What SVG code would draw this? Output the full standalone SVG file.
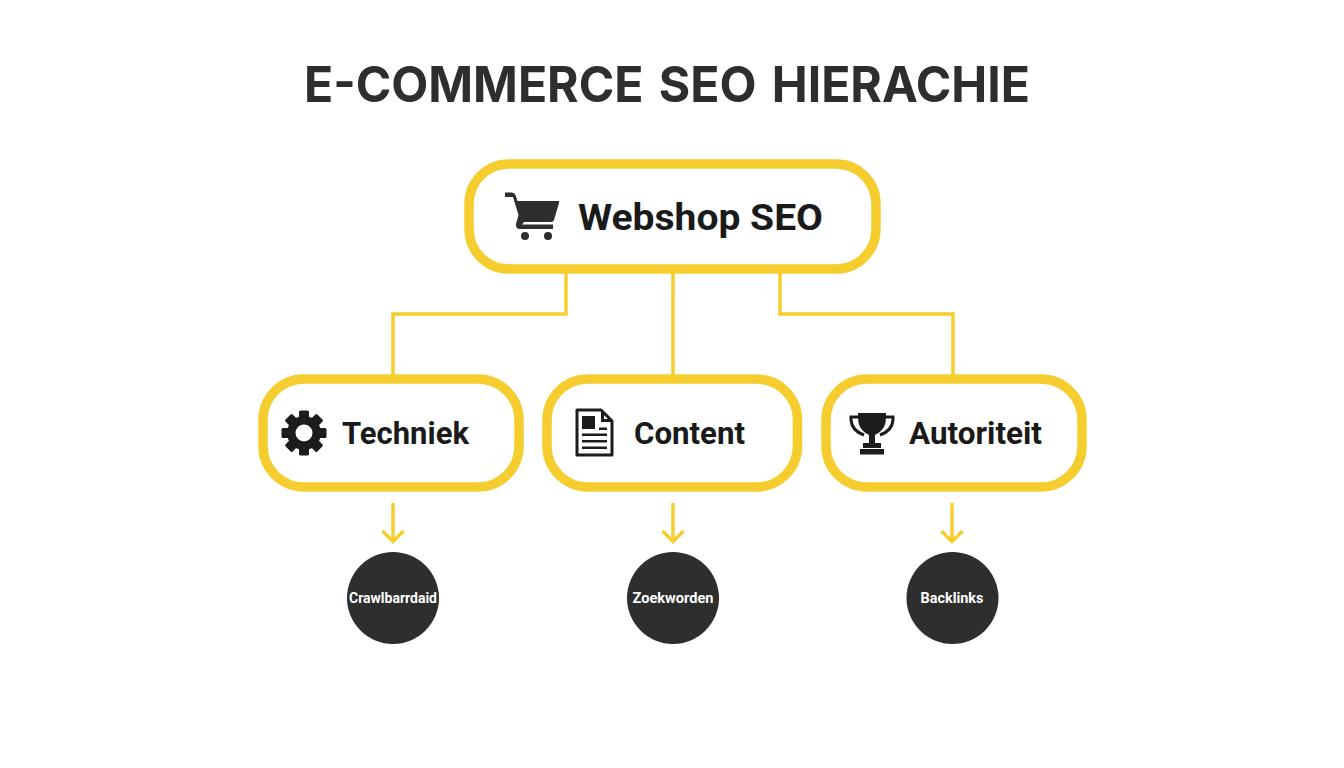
<svg xmlns="http://www.w3.org/2000/svg" width="1344" height="768" viewBox="0 0 1344 768">
<style>
.box{fill:#fff;stroke:#f6cd2e;stroke-width:9.5}
.conn{fill:none;stroke:#f6cd2e;stroke-width:3.500}
.arr{fill:none;stroke:#f6cd2e;stroke-width:3.500}
.dark{fill:#2e2e2e}
.ink{fill:#1c1c1c}
text{font-family:Roboto,"Liberation Sans",sans-serif;font-weight:700}
.title{font-family:Inter,Roboto,sans-serif;font-size:49.500px;fill:#2e2e2e;word-spacing:4px}
.lab{fill:#1a1a1a}
.sub{font-size:14px;fill:#fff;text-anchor:middle}
</style>
<rect width="1344" height="768" fill="#fff"/>
<text id="title" class="title" x="304" y="101.500" textLength="726" lengthAdjust="spacingAndGlyphs">E-COMMERCE SEO HIERACHIE</text>
<g id="connectors">
<path class="conn" d="M566 272V314H393V376"/>
<path class="conn" d="M673 272V376"/>
<path class="conn" d="M780 272V314H953V376"/>
<path class="arr" d="M393 503V541M382.500 531L393 541.500L403.500 531"/>
<path class="arr" d="M673 503V541M662.500 531L673 541.500L683.500 531"/>
<path class="arr" d="M952 503V541M941.500 531L952 541.500L962.500 531"/>
</g>
<g id="node-webshop">
<rect class="box" x="469" y="164" width="407" height="105" rx="40"/>
<g class="dark">
<path d="M505 192.500H512Q514.500 192.500 515.500 195L517.500 201H558.500Q559.500 201 559 203L554 220Q553.500 222 551 222H524L522 224.500H553V229H520Q515.500 229 516 224L518.500 215L513 197H505Z"/>
<circle cx="525" cy="236" r="4"/><circle cx="548" cy="236" r="4"/>
</g>
<text class="lab" x="578" y="229.500" font-size="37" textLength="245" lengthAdjust="spacingAndGlyphs">Webshop SEO</text>
</g>
<g id="node-techniek">
<rect class="box" x="263" y="379" width="256" height="108" rx="41"/>
<g transform="translate(304 433)">
<g class="ink">
<circle r="17"/>
<rect x="-5" y="-22.500" width="10" height="45" rx="1.500"/>
<rect x="-5" y="-22.500" width="10" height="45" rx="1.500" transform="rotate(45)"/>
<rect x="-5" y="-22.500" width="10" height="45" rx="1.500" transform="rotate(90)"/>
<rect x="-5" y="-22.500" width="10" height="45" rx="1.500" transform="rotate(135)"/>
</g>
<circle r="8.500" fill="#fff"/>
</g>
<text class="lab" x="342" y="443.500" font-size="30.500" textLength="127" lengthAdjust="spacingAndGlyphs">Techniek</text>
</g>
<g id="node-content">
<rect class="box" x="547" y="379" width="250.500" height="108" rx="41"/>
<path d="M577 410H601L612 421V455H577Z" fill="#fff" stroke="#1c1c1c" stroke-width="3" stroke-linejoin="round"/>
<path class="ink" d="M601 410V422H612L609 419H604V412Z"/>
<rect class="ink" x="582" y="416" width="13" height="13"/>
<rect class="ink" x="599" y="427.500" width="8" height="2.500"/>
<rect class="ink" x="582" y="433.500" width="25" height="2.500"/>
<rect class="ink" x="582" y="440" width="25" height="2.500"/>
<rect class="ink" x="582" y="446.500" width="25" height="2.500"/>
<text class="lab" x="634" y="443.500" font-size="30.500" textLength="111" lengthAdjust="spacingAndGlyphs">Content</text>
</g>
<g id="node-autoriteit">
<rect class="box" x="826" y="379" width="256" height="108" rx="41"/>
<g class="ink">
<path d="M858 413H886V418Q886 430 875 435V443H881V448H863V443H869V435Q858 430 858 418Z"/>
<rect x="860" y="449" width="24" height="5.500"/>
<path d="M859 417H851V420Q852 431 864 435" fill="none" stroke="#1c1c1c" stroke-width="3"/>
<path d="M885 417H893V420Q892 431 880 435" fill="none" stroke="#1c1c1c" stroke-width="3"/>
</g>
<text class="lab" x="909" y="443.500" font-size="30.500" textLength="133" lengthAdjust="spacingAndGlyphs">Autoriteit</text>
</g>
<g id="node-crawl"><circle class="dark" cx="393" cy="598" r="46"/><text class="sub" x="393" y="603" textLength="88" lengthAdjust="spacingAndGlyphs">Crawlbarrdaid</text></g>
<g id="node-zoek"><circle class="dark" cx="673" cy="598" r="46"/><text class="sub" x="673" y="603" textLength="81" lengthAdjust="spacingAndGlyphs">Zoekworden</text></g>
<g id="node-back"><circle class="dark" cx="952.500" cy="598" r="46"/><text class="sub" x="952" y="603" textLength="63" lengthAdjust="spacingAndGlyphs">Backlinks</text></g>
</svg>
